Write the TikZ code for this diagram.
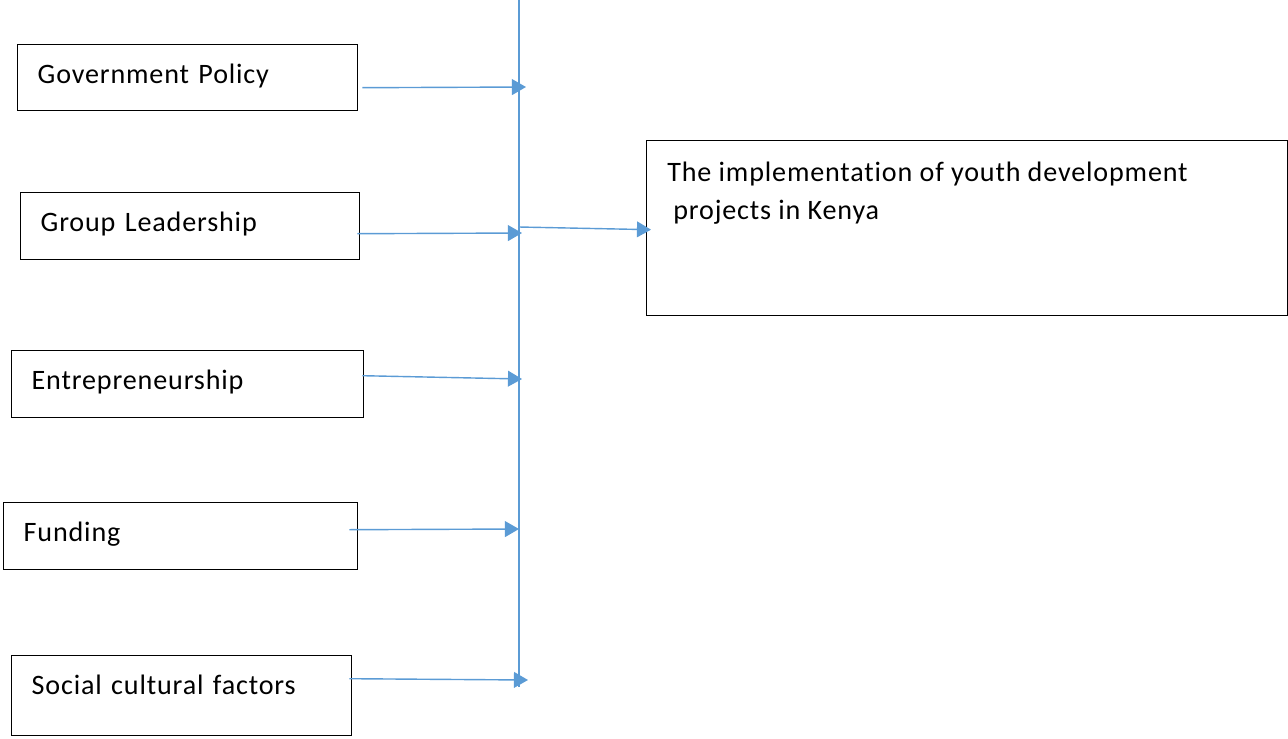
\documentclass[tikz,border=0pt]{standalone}
\usepackage{fontspec}
\setmainfont{Carlito}[LetterSpace=3,Ligatures=NoCommon]
\usetikzlibrary{arrows.meta,calc}
\definecolor{linkblue}{HTML}{5B9BD5}
\tikzstyle{every node}=[font=\fontsize{16}{21.5}\selectfont]
\tikzstyle{factor}=[draw=black,line width=0.8pt,anchor=north west,inner xsep=0.4cm,inner ysep=0pt,text height=0.78cm,align=left]
\tikzstyle{link}=[draw=linkblue,line width=0.8pt,-{Triangle[length=8pt,width=9pt]}]

\begin{document}
\begin{tikzpicture}[x=0.02cm,y=-0.02cm]
  \useasboundingbox (0,0) rectangle (1288,738);
  \node [factor,text width=6.0cm,text depth=0.54cm] (gov) at (17,44) {Government Policy};
  \node [factor,text width=5.98cm,text depth=0.56cm] (lead) at (20,192) {Group Leadership};
  \node [factor,text width=6.24cm,text depth=0.56cm] (entr) at (11,350) {Entrepreneurship};
  \node [factor,text width=6.28cm,text depth=0.56cm] (fund) at (3,502) {Funding};
  \node [factor,text width=6.0cm,text depth=0.82cm] (soc) at (11,655) {Social cultural factors};
  \node [draw=black,line width=0.8pt,anchor=north west,minimum width=12.82cm,minimum height=3.5cm] (impl) at (646,140) {};
  \node [anchor=north west,inner sep=0pt,align=left] (impltext) at (667,162)
    {The implementation of youth development\\\hspace{0.12cm}projects in Kenya};

  \coordinate (bustop) at (519,0);
  \coordinate (busend) at (519,687);
  \coordinate (j) at (519,227);
  \draw [draw=linkblue,line width=0.8pt] (bustop) -- (busend);

  \draw [link] ($(gov.east)+(4,10)$) -- (526,87);
  \draw [link] ($(lead.east)+(-3,7.5)$) -- (522,233);
  \draw [link] ($(entr.east)+(-2,-8.5)$) -- (522,379);
  \draw [link] ($(fund.east)+(-9,-6.5)$) -- (519,529);
  \draw [link] ($(soc.east)+(-3,-17)$) -- (528,680);
  \draw [link] (j) -- ($(impl.west)+(5,1.5)$);
\end{tikzpicture}
\end{document}
